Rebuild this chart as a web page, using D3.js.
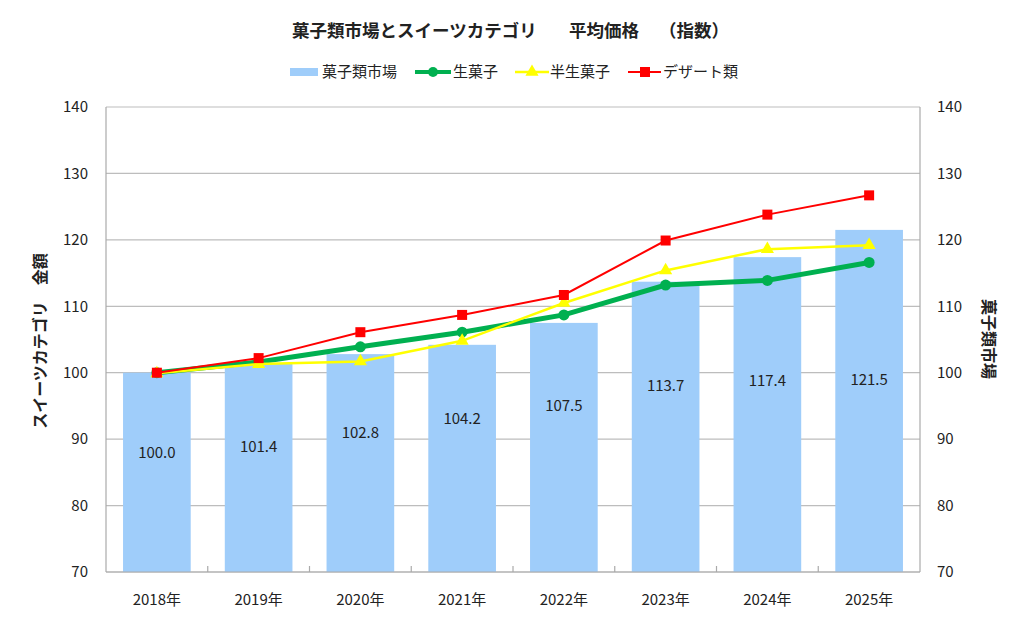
<!DOCTYPE html>
<html>
<head>
<meta charset="utf-8">
<script src="https://cdn.jsdelivr.net/npm/d3@7"></script>
<style>
  body { margin: 0; background: #fff; }
  text { font-family: "Noto Sans CJK JP", "Noto Sans", sans-serif; fill: #222; }
</style>
</head>
<body>
<svg></svg>
<script>
// data
var years = ["2018年", "2019年", "2020年", "2021年", "2022年", "2023年", "2024年", "2025年"];
var market = [100.0, 101.4, 102.8, 104.2, 107.5, 113.7, 117.4, 121.5];
var namagashi = [100.0, 101.6, 103.9, 106.1, 108.7, 113.2, 113.9, 116.6];
var hannama = [99.9, 101.3, 101.7, 104.8, 110.5, 115.4, 118.6, 119.2];
var dessert = [100.0, 102.2, 106.1, 108.7, 111.7, 119.9, 123.8, 126.7];
var yTicks = [70, 80, 90, 100, 110, 120, 130, 140];

var svgWidth = 1024;
var svgHeight = 623;
var svg = d3.select("svg")
            .attr("width", svgWidth)
            .attr("height", svgHeight);

// plot area
var plotLeft = 106, plotRight = 920, plotTop = 107, plotBottom = 572;

var x = d3.scaleBand()
          .domain(years)
          .range([plotLeft, plotRight])
          .paddingInner(0.335)
          .paddingOuter(0.1675);

var y = d3.scaleLinear().domain([70, 140]).range([plotBottom, plotTop]);

var cx = function(i){ return x(years[i]) + x.bandwidth() / 2; };

// gridlines
svg.append("g")
   .selectAll("line")
   .data(yTicks)
   .enter()
   .append("line")
   .attr("x1", plotLeft).attr("x2", plotRight)
   .attr("y1", function(d){ return y(d); })
   .attr("y2", function(d){ return y(d); })
   .attr("stroke", "#bdbdbd")
   .attr("stroke-width", 1.2);

// bars
svg.append("g")
   .selectAll("rect")
   .data(market)
   .enter()
   .append("rect")
   .attr("x", function(d, i){ return x(years[i]); })
   .attr("width", x.bandwidth())
   .attr("y", function(d){ return y(d); })
   .attr("height", function(d){ return y(70) - y(d); })
   .attr("fill", "#9fcdfa");

// frame lines (left, right, bottom)
svg.append("line").attr("x1", plotLeft).attr("x2", plotLeft).attr("y1", plotTop).attr("y2", plotBottom)
   .attr("stroke", "#aaa").attr("stroke-width", 1.2);
svg.append("line").attr("x1", plotRight).attr("x2", plotRight).attr("y1", plotTop).attr("y2", plotBottom)
   .attr("stroke", "#aaa").attr("stroke-width", 1.2);
svg.append("line").attr("x1", plotLeft).attr("x2", plotRight).attr("y1", plotBottom).attr("y2", plotBottom)
   .attr("stroke", "#aaa").attr("stroke-width", 1.2);

// small inward ticks between categories
svg.append("g")
   .selectAll("line")
   .data(years.slice(1))
   .enter()
   .append("line")
   .attr("x1", function(d){ return x(d) - x.step() * x.paddingInner() / 2; })
   .attr("x2", function(d){ return x(d) - x.step() * x.paddingInner() / 2; })
   .attr("y1", plotBottom - 6).attr("y2", plotBottom)
   .attr("stroke", "#aaa").attr("stroke-width", 1.2);

// bar labels (placed inside the bars, in value units)
var labelAt = [88.0, 88.9, 90.9, 93.1, 95.1, 98.1, 98.8, 99.0];
svg.append("g")
   .selectAll("text")
   .data(market)
   .enter()
   .append("text")
   .attr("x", function(d, i){ return cx(i); })
   .attr("y", function(d, i){ return y(labelAt[i]); })
   .attr("dy", "0.35em")
   .attr("text-anchor", "middle")
   .style("font-size", "15px")
   .text(function(d){ return d.toFixed(1); });

// axes labels
var yLeft = d3.axisLeft(y).tickValues(yTicks).tickSize(0).tickPadding(18);
svg.append("g").attr("transform", "translate(" + plotLeft + ",0)").call(yLeft)
   .call(function(g){ g.select(".domain").remove(); })
   .selectAll("text").style("font-size", "15px").style("fill", "#222")
   .style("font-family", "'Noto Sans CJK JP', sans-serif");

var yRight = d3.axisRight(y).tickValues(yTicks).tickSize(0).tickPadding(17);
svg.append("g").attr("transform", "translate(" + plotRight + ",0)").call(yRight)
   .call(function(g){ g.select(".domain").remove(); })
   .selectAll("text").style("font-size", "15px").style("fill", "#222")
   .style("font-family", "'Noto Sans CJK JP', sans-serif");

var xAxis = d3.axisBottom(x).tickSize(0).tickPadding(22);
svg.append("g").attr("transform", "translate(0," + plotBottom + ")").call(xAxis)
   .call(function(g){ g.select(".domain").remove(); })
   .selectAll("text").style("font-size", "15px").style("fill", "#222")
   .style("font-family", "'Noto Sans CJK JP', sans-serif");

// lines
var line = function(values){
  return d3.line()
           .x(function(d, i){ return cx(i); })
           .y(function(d){ return y(d); })(values);
};

svg.append("path").attr("d", line(namagashi))
   .attr("fill", "none").attr("stroke", "#00b050").attr("stroke-width", 5);
svg.append("g").selectAll("circle").data(namagashi).enter().append("circle")
   .attr("cx", function(d, i){ return cx(i); })
   .attr("cy", function(d){ return y(d); })
   .attr("r", 5.5)
   .attr("fill", "#00b050");

svg.append("path").attr("d", line(hannama))
   .attr("fill", "none").attr("stroke", "#ffff00").attr("stroke-width", 2.5);
var tri = d3.symbol().type(d3.symbolTriangle).size(75);
svg.append("g").selectAll("path").data(hannama).enter().append("path")
   .attr("d", tri)
   .attr("transform", function(d, i){ return "translate(" + cx(i) + "," + y(d) + ")"; })
   .attr("fill", "#ffff00");

svg.append("path").attr("d", line(dessert))
   .attr("fill", "none").attr("stroke", "#ff0000").attr("stroke-width", 2);
svg.append("g").selectAll("rect").data(dessert).enter().append("rect")
   .attr("x", function(d, i){ return cx(i) - 5; })
   .attr("y", function(d){ return y(d) - 5; })
   .attr("width", 10).attr("height", 10)
   .attr("fill", "#ff0000");

// title (three pieces, wide gaps as in the original)
var title = svg.append("text")
   .attr("y", 31)
   .attr("dy", "0.35em")
   .style("font-size", "17.5px")
   .style("font-weight", "bold");
title.append("tspan").attr("x", 292).text("菓子類市場とスイーツカテゴリ");
title.append("tspan").attr("x", 569).text("平均価格");
title.append("tspan").attr("x", 659).text("（指数）");

// axis titles
svg.append("text")
   .attr("transform", "translate(46,341) rotate(-90)")
   .attr("text-anchor", "middle")
   .style("font-size", "16px")
   .style("font-weight", "bold")
   .text("スイーツカテゴリ　金額");

svg.append("text")
   .attr("transform", "translate(983,339) rotate(90)")
   .attr("text-anchor", "middle")
   .style("font-size", "16px")
   .style("font-weight", "bold")
   .text("菓子類市場");

// legend
var legendY = 72;
var lg = svg.append("g");
lg.append("rect").attr("x", 290).attr("y", legendY - 4).attr("width", 28).attr("height", 8).attr("fill", "#9fcdfa");
lg.append("text").attr("x", 322).attr("y", legendY).attr("dy", "0.35em").style("font-size", "15px").text("菓子類市場");

lg.append("line").attr("x1", 415).attr("x2", 451).attr("y1", legendY).attr("y2", legendY)
  .attr("stroke", "#00b050").attr("stroke-width", 4);
lg.append("circle").attr("cx", 433).attr("cy", legendY).attr("r", 5).attr("fill", "#00b050");
lg.append("text").attr("x", 453).attr("y", legendY).attr("dy", "0.35em").style("font-size", "15px").text("生菓子");

lg.append("line").attr("x1", 515).attr("x2", 549).attr("y1", legendY).attr("y2", legendY)
  .attr("stroke", "#ffff00").attr("stroke-width", 2.5);
lg.append("path").attr("d", tri).attr("transform", "translate(532," + legendY + ")").attr("fill", "#ffff00");
lg.append("text").attr("x", 550).attr("y", legendY).attr("dy", "0.35em").style("font-size", "15px").text("半生菓子");

lg.append("line").attr("x1", 628).attr("x2", 661).attr("y1", legendY).attr("y2", legendY)
  .attr("stroke", "#ff0000").attr("stroke-width", 2);
lg.append("rect").attr("x", 640).attr("y", legendY - 5).attr("width", 10).attr("height", 10).attr("fill", "#ff0000");
lg.append("text").attr("x", 663).attr("y", legendY).attr("dy", "0.35em").style("font-size", "15px").text("デザート類");
</script>
</body>
</html>
